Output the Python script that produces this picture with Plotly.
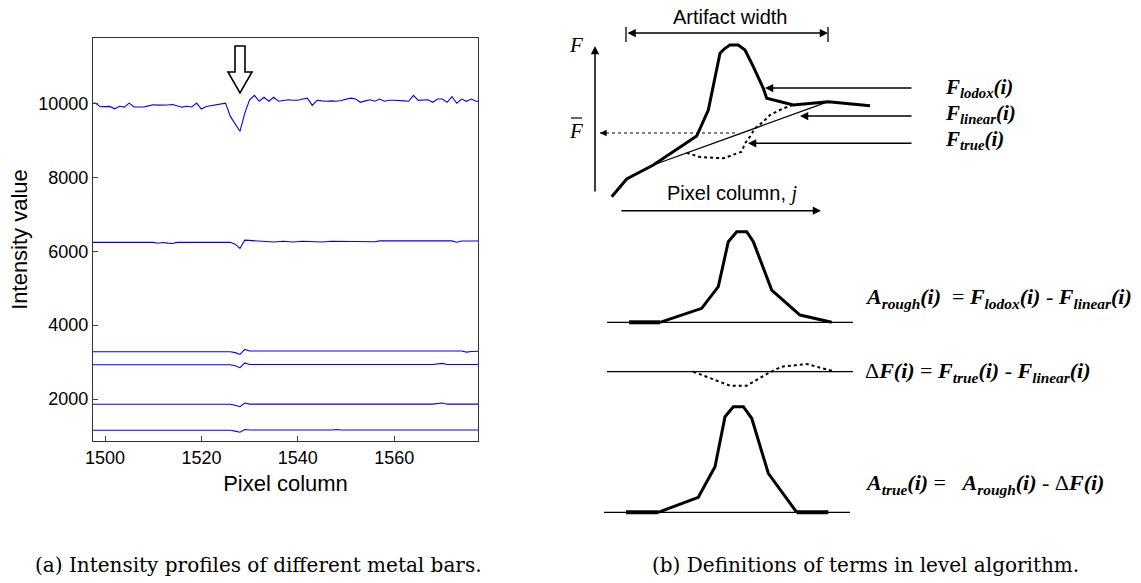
import plotly.graph_objects as go

# ---- (a) intensity profiles ----
top_x = list(range(1497, 1579))
top_y = [10000, 10010, 9910, 9905, 9920, 9855, 9925, 9900, 10010, 9905,
         9905, 9905, 9935, 9965, 9955, 9950, 9960, 9970, 9935, 9900,
         9925, 9905, 10010, 9850, 9920, 9940, 9960, 9970, 10010, 9650,
         9440, 9247, 9740, 10100, 10221, 10059, 10167, 10059, 10167, 10059,
         10080, 10100, 10085, 10085, 10120, 10145, 9950, 10085, 10070, 10059,
         10070, 10059, 10080, 10105, 10145, 10120, 10032, 10070, 10100, 10059,
         10120, 10059, 10085, 10085, 10085, 10070, 10059, 10221, 10085, 10090,
         10100, 10032, 10120, 10120, 10032, 10183, 10005, 10120, 10059, 10120,
         10059, 10059]

bar2_x = [1497, 1510, 1511, 1512, 1513, 1514, 1515, 1526, 1527, 1528, 1529, 1530,
          1533, 1535, 1537, 1539, 1541, 1545, 1547, 1550, 1556, 1557, 1558, 1572,
          1573, 1574, 1578]
bar2_y = [6240, 6240, 6215, 6235, 6220, 6210, 6240, 6240, 6190, 6075, 6300, 6290,
          6280, 6250, 6270, 6250, 6270, 6250, 6270, 6265, 6255, 6280, 6280, 6280,
          6245, 6275, 6275]

bar3_x = [1497, 1509, 1511, 1513, 1515, 1517, 1519, 1521, 1526, 1527, 1528, 1529,
          1530, 1574, 1575, 1576, 1578]
bar3_y = [3280, 3280, 3300, 3280, 3300, 3280, 3295, 3280, 3280, 3255, 3205, 3340,
          3300, 3300, 3270, 3285, 3295]

bar4_x = [1497, 1526, 1527, 1528, 1529, 1530, 1568, 1569, 1570, 1571, 1578]
bar4_y = [2929, 2929, 2900, 2847, 2975, 2935, 2935, 2960, 2965, 2935, 2935]

bar5_x = [1497, 1526, 1527, 1528, 1529, 1530, 1568, 1569, 1570, 1571, 1578]
bar5_y = [1857, 1857, 1830, 1792, 1892, 1862, 1862, 1885, 1890, 1860, 1860]

bar6_x = [1497, 1526, 1527, 1528, 1529, 1530, 1547, 1548, 1549, 1568, 1569, 1570, 1571, 1578]
bar6_y = [1153, 1153, 1130, 1099, 1175, 1160, 1160, 1175, 1160, 1160, 1175, 1178, 1160, 1160]

profiles = [(top_x, top_y), (bar2_x, bar2_y), (bar3_x, bar3_y),
            (bar4_x, bar4_y), (bar5_x, bar5_y), (bar6_x, bar6_y)]

# ---- (b) level-algorithm sketch (drawing units) ----
lodox_x = [611.7, 626.7, 653.3, 696.7, 708.3, 720, 725, 730, 738.3, 745, 753.3,
           763.3, 766.7, 793.3, 828.3, 870]
lodox_y = [196.7, 179, 165, 136, 110, 53.3, 48.3, 45, 45, 50, 66.7, 88.3, 98.3,
           105, 101.7, 105.7]
linear_x = [653.3, 828.3]
linear_y = [165, 101.7]
true_x = [686.7, 700, 723.3, 741.7, 745, 750, 755, 763.3, 770, 783.3, 793.3]
true_y = [152.9, 157, 158.3, 151.7, 143.3, 136.7, 128.3, 121.7, 115, 108.3, 105]

rough_x = [660, 701.7, 718.3, 728.3, 736.7, 746.7, 753.3, 771.7, 800, 831.7]
rough_y = [322.3, 308.3, 286.7, 241.7, 231.7, 231.7, 241.7, 290, 315, 322.3]
rough_base_x = [607, 853]
rough_base_y = [322.3, 322.3]
rough_flat_x = [629, 660]

delta_x = [693.3, 710, 730, 746.7, 756.7, 770, 781.7, 806.7, 835]
delta_y = [371.7, 378.3, 385.7, 385.7, 380, 372.3, 366.7, 364, 371.7]
delta_base_x = [607, 853]
delta_base_y = [371.7, 371.7]

atrue_x = [658.3, 698.3, 715, 725, 733.3, 743.3, 751.7, 768.3, 796.7]
atrue_y = [512.3, 497.3, 466.7, 416.7, 406.7, 406.7, 418.3, 473.3, 512.3]
atrue_base_x = [604, 850]
atrue_base_y = [512.3, 512.3]
atrue_flat_left_x = [626, 658.3]
atrue_flat_right_x = [796.7, 828.3]

fbar_x = [600, 738]
fbar_y = [133, 133]

BLUE = '#0000ff'
fig = go.Figure()

for px, py in profiles:
    fig.add_trace(go.Scatter(x=px, y=py, mode='lines',
                             line=dict(color=BLUE, width=1.1),
                             xaxis='x', yaxis='y', hoverinfo='skip'))


def sketch(x, y, width, dash='solid'):
    fig.add_trace(go.Scatter(x=x, y=y, mode='lines', xaxis='x2', yaxis='y2',
                             line=dict(color='black', width=width, dash=dash),
                             hoverinfo='skip'))


sketch(linear_x, linear_y, 1.3)
sketch(true_x, true_y, 2, 'dot')
sketch(lodox_x, lodox_y, 3)
sketch(fbar_x, fbar_y, 1.2, 'dot')

sketch(rough_base_x, rough_base_y, 1.3)
sketch(rough_flat_x, [rough_base_y[0]] * 2, 4)
sketch(rough_x, rough_y, 3)

sketch(delta_base_x, delta_base_y, 1.3)
sketch(delta_x, delta_y, 2, 'dot')

sketch(atrue_base_x, atrue_base_y, 1.3)
sketch(atrue_flat_left_x, [atrue_base_y[0]] * 2, 4)
sketch(atrue_flat_right_x, [atrue_base_y[0]] * 2, 4)
sketch(atrue_x, atrue_y, 3)

ann = []


def arrow(x0, y0, x1, y1, side='end', w=1.5):
    ann.append(dict(x=x1, y=y1, ax=x0, ay=y0, xref='x2', yref='y2',
                    axref='x2', ayref='y2', text='', showarrow=True,
                    arrowhead=2, startarrowhead=2, arrowside=side,
                    arrowsize=1.1, arrowwidth=w, arrowcolor='black'))


arrow(626, 33, 828, 33, side='end+start')
arrow(595, 193, 595, 46)
arrow(607, 133, 600, 133, w=1.2)
arrow(913, 88, 765, 88)
arrow(913, 116, 800, 116)
arrow(913, 143.3, 748, 143.3)
arrow(620, 210.7, 821, 210.7)

SERIF = 'Liberation Serif'


def label(x, y, text, size=21, family=SERIF, anchor='left'):
    ann.append(dict(x=x, y=y, xref='x2', yref='y2', text=text, showarrow=False,
                    xanchor=anchor, yanchor='middle',
                    font=dict(family=family, size=size, color='black')))


def bi(s):
    return '<b><i>' + s + '</i></b>'


label(730, 17, 'Artifact width', 20, 'Liberation Sans', 'center')
label(732, 193, 'Pixel column, <i><span style="font-family:Liberation Serif">j</span></i>',
      20, 'Liberation Sans', 'center')
label(576, 45, '<i>F</i>', 21, SERIF, 'center')
label(576, 131, '<i>F</i>', 21, SERIF, 'center')
label(943, 88, bi('F') + '<sub>' + bi('lodox') + '</sub>' + bi('(i)'))
label(943, 114, bi('F') + '<sub>' + bi('linear') + '</sub>' + bi('(i)'))
label(943, 140, bi('F') + '<sub>' + bi('true') + '</sub>' + bi('(i)'))
label(863, 298, bi('A') + '<sub>' + bi('rough') + '</sub>' + bi('(i)') + '  = '
      + bi('F') + '<sub>' + bi('lodox') + '</sub>' + bi('(i)') + ' - '
      + bi('F') + '<sub>' + bi('linear') + '</sub>' + bi('(i)'), 22)
label(863, 372, 'Δ' + bi('F(i)') + ' = '
      + bi('F') + '<sub>' + bi('true') + '</sub>' + bi('(i)') + ' - '
      + bi('F') + '<sub>' + bi('linear') + '</sub>' + bi('(i)'), 22)
label(863, 484, bi('A') + '<sub>' + bi('true') + '</sub>' + bi('(i)') + ' =   '
      + bi('A') + '<sub>' + bi('rough') + '</sub>' + bi('(i)') + ' - '
      + 'Δ' + bi('F(i)'), 22)

CAP = 'DejaVu Serif'
label(258, 565, '(a) Intensity profiles of different metal bars.', 20, CAP, 'center')
label(865, 565, '(b) Definitions of terms in level algorithm.', 20, CAP, 'center')

shapes = [
    # end stops of the artifact-width dimension
    dict(type='line', xref='x2', yref='y2', x0=626, x1=626, y0=27, y1=42,
         line=dict(color='black', width=1.3)),
    dict(type='line', xref='x2', yref='y2', x0=828, x1=828, y0=27, y1=42,
         line=dict(color='black', width=1.3)),
    # bar over the second F
    dict(type='line', xref='x2', yref='y2', x0=571, x1=582, y0=118, y1=118,
         line=dict(color='black', width=1.2)),
    # hollow pointer above the dip
    dict(type='path', xref='x2', yref='y2',
         path='M 235 46 L 245 46 L 245 72 L 252 72 L 240 93 L 228 72 L 235 72 Z',
         fillcolor='white', line=dict(color='black', width=1.6)),
]

fig.update_layout(
    width=1141, height=583,
    margin=dict(l=0, r=0, t=0, b=0, autoexpand=False),
    paper_bgcolor='white', plot_bgcolor='rgba(0,0,0,0)',
    showlegend=False,
    font=dict(family='Liberation Sans', color='black'),
    xaxis=dict(domain=[93 / 1141, 478 / 1141], range=[1497.5, 1577.4],
               tickvals=[1500, 1520, 1540, 1560], ticks='inside', ticklen=5,
               showline=True, linecolor='#333', linewidth=1.2, mirror=True,
               showgrid=False, zeroline=False, tickfont=dict(size=18),
               title=dict(text='Pixel column', font=dict(size=22), standoff=8),
               anchor='y', automargin=False),
    yaxis=dict(domain=[1 - 441 / 583, 1 - 38 / 583], range=[863, 11772],
               tickvals=[2000, 4000, 6000, 8000, 10000], tickformat='d',
               ticks='inside', ticklen=5,
               showline=True, linecolor='#333', linewidth=1.2, mirror=True,
               showgrid=False, zeroline=False, tickfont=dict(size=18),
               title=dict(text='Intensity value', font=dict(size=22), standoff=4),
               anchor='x', automargin=False),
    xaxis2=dict(domain=[0, 1], range=[0, 1141], visible=False, anchor='y2',
                automargin=False),
    yaxis2=dict(domain=[0, 1], range=[583, 0], visible=False, anchor='x2',
                automargin=False),
    annotations=ann,
    shapes=shapes,
)

fig.write_html("out.html", config={'displayModeBar': False},
               post_script="document.body.style.margin='0';")
